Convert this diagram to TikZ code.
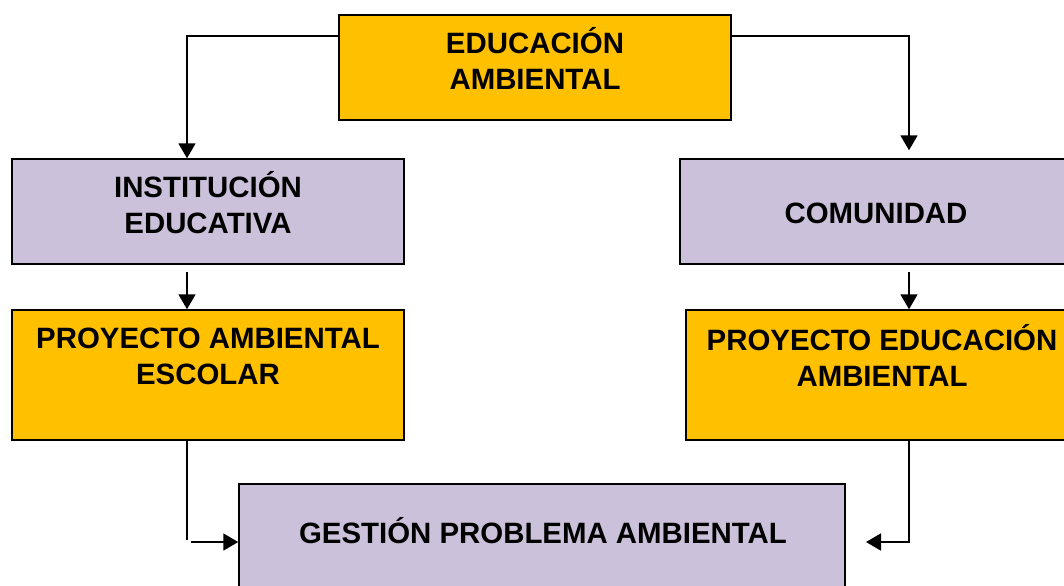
\documentclass[tikz,border=0pt]{standalone}
\usepackage{fontspec}
\setmainfont{Liberation Sans}
\usepackage{tikz}
\usetikzlibrary{positioning,calc,arrows.meta}
\definecolor{naranja}{HTML}{FFC000}
\definecolor{lila}{HTML}{CCC1DA}

\begin{document}
\begin{tikzpicture}[x=0.5pt,y=-0.5pt,
	  caja/.style = {shape=rectangle, draw=black, line width=0.75pt, inner sep=0pt},
	  naranjo/.style = {caja, fill=naranja},
	  lilaca/.style = {caja, fill=lila},
	  texto/.style = {align=center, inner sep=0pt,
	    font=\fontsize{14.7}{18}\selectfont\bfseries},
	  flecha/.style = {draw=black, line width=0.9pt,
	    -{Triangle[length=7.5pt,width=8.5pt]}},
	  linea/.style = {draw=black, line width=0.9pt}]
	  \useasboundingbox (0,0) rectangle (1064,585);
	  % cajas
	  \node[naranjo, minimum width=196pt, minimum height=52.5pt] (ea) at (535,67.5) {};
	  \node[lilaca, minimum width=196pt, minimum height=52.5pt] (ie) at (208,211.5) {};
	  \node[lilaca, minimum width=196pt, minimum height=52.5pt] (com) at (876,211.5) {};
	  \node[naranjo, minimum width=196pt, minimum height=65pt] (pae) at (208,375) {};
	  \node[naranjo, minimum width=196pt, minimum height=65pt] (pea) at (882,375) {};
	  \node[lilaca, minimum width=303pt, minimum height=53pt] (gpa) at (542,537) {};
	  % textos
	  \node[texto] (eat) at (535,58) {EDUCACIÓN\\AMBIENTAL};
	  \node[texto] (iet) at (208,203) {INSTITUCIÓN\\EDUCATIVA};
	  \node[texto] (comt) at (876,213) {COMUNIDAD};
	  \node[texto] (paet) at (208,356) {PROYECTO AMBIENTAL\\ESCOLAR};
	  \node[texto] (peat) at (882,355) {PROYECTO EDUCACIÓN\\AMBIENTAL};
	  \node[texto] (gpat) at (543,531) {GESTIÓN PROBLEMA AMBIENTAL};
	  % conectores
	  \coordinate (izq) at (187,0);
	  \coordinate (der) at (909,0);
	  \draw[flecha] ([yshift=-11pt]ea.north west) -| (izq |- ie.north);
	  \draw[flecha] ([yshift=-11pt]ea.north east) -| ([yshift=4pt]der |- com.north);
	  \draw[flecha] ([yshift=-3.5pt]izq |- ie.south) -- (izq |- pae.north);
	  \draw[flecha] ([yshift=-3.5pt]der |- com.south) -- (der |- pae.north);
	  \coordinate (codo1) at (187,540);
	  \coordinate (codo2) at (191,542);
	  \draw[linea] (izq |- pae.south) -- (codo1);
	  \draw[flecha] (codo2) -- (gpa.west |- codo2);
	  \coordinate (codo3) at (909,542);
	  \coordinate (punta) at (866,542);
	  \draw[flecha] (der |- pea.south) -- (codo3) -- (punta);
	\end{tikzpicture}
\end{document}
